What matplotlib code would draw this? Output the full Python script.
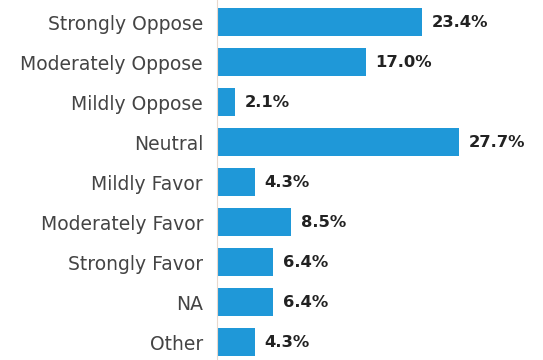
import matplotlib
matplotlib.use("Agg")
import matplotlib.pyplot as plt

categories = [
    "Strongly Oppose",
    "Moderately Oppose",
    "Mildly Oppose",
    "Neutral",
    "Mildly Favor",
    "Moderately Favor",
    "Strongly Favor",
    "NA",
    "Other",
]
values = [23.4, 17.0, 2.1, 27.7, 4.3, 8.5, 6.4, 6.4, 4.3]

BAR_COLOR = "#1f98d8"

fig = plt.figure(figsize=(5.43, 3.6), dpi=100)
ax = fig.add_axes([217 / 543, 0.0, 1 - 217 / 543 - 0.02, 1.0])

positions = list(range(len(categories)))
ax.barh(positions, values, height=0.68, color=BAR_COLOR)

for pos, val in zip(positions, values):
    ax.annotate(f"{val:.1f}%", xy=(val, pos), xytext=(7, 0),
                textcoords="offset points", va="center", ha="left",
                fontsize=11.8, fontweight="bold", color="#222222",
                family="DejaVu Sans")

ax.set_yticks(positions)
ax.set_yticklabels(categories, fontsize=13.5, color="#444444", family="DejaVu Sans")
ax.tick_params(axis="y", length=0, pad=10)
ax.set_xticks([])
ax.set_xlim(0, 36)
ax.set_ylim(8.45, -0.55)

for side in ["top", "right", "bottom"]:
    ax.spines[side].set_visible(False)
ax.spines["left"].set_color("#e8d8cc")
ax.spines["left"].set_linewidth(0.8)

fig.savefig("out.png", dpi=100)
